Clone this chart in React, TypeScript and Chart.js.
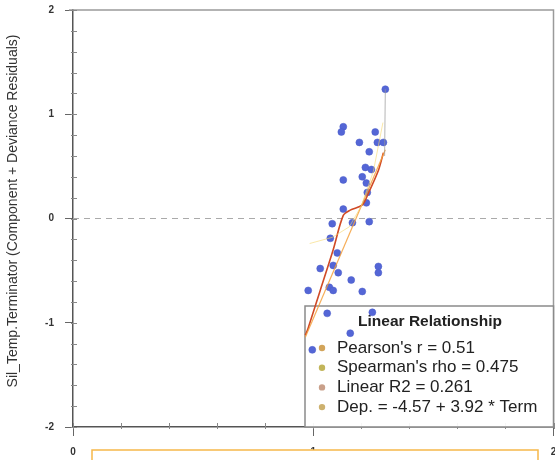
import React, { useEffect, useRef } from "react";
import { Chart, registerables } from "chart.js";

Chart.register(...registerables);

const xTicks = [0, 1, 2];
const yTicks = [-2, -1, 0, 1, 2];

const pointX = [1.300, 1.125, 1.117, 1.192, 1.258, 1.267, 1.292, 1.233, 1.217, 1.242, 1.204, 1.125, 1.221, 1.225, 1.221, 1.125, 1.163, 1.233, 1.079, 1.071, 1.100, 1.029, 1.083, 1.104, 1.271, 1.271, 1.158, 1.067, 1.083, 0.979, 1.204, 1.058, 1.154, 0.996, 1.246];
const pointY = [1.24, 0.88, 0.83, 0.73, 0.83, 0.73, 0.73, 0.64, 0.49, 0.47, 0.40, 0.37, 0.34, 0.25, 0.15, 0.09, -0.04, -0.03, -0.05, -0.19, -0.33, -0.48, -0.45, -0.52, -0.46, -0.52, -0.59, -0.66, -0.69, -0.69, -0.70, -0.91, -1.10, -1.26, -0.90];

const smoothX = [0.967, 0.979, 1.029, 1.083, 1.125, 1.154, 1.204, 1.229, 1.271, 1.292];
const smoothY = [-1.12, -1.05, -0.69, -0.30, 0.03, 0.08, 0.13, 0.24, 0.46, 0.63];

const fitX = [0.967, 1.300];
const fitY = [-1.14, 0.66];

const bandX = [0.985, 1.08, 1.15, 1.2, 1.25, 1.29];
const bandY = [-0.24, -0.18, -0.08, 0.12, 0.45, 0.92];

const stemX = [1.297, 1.300];
const stemY = [0.60, 1.24];

const yTitle = "Sil_Temp.Terminator (Component + Deviance Residuals)";
const legendTitle = "Linear Relationship";
const legendItems = ["Pearson's r = 0.51", "Spearman's rho = 0.475", "Linear R2 = 0.261", "Dep. = -4.57 + 3.92 * Term"];
const legendColors = ["#d2a45a", "#c2b55a", "#c9a08a", "#cdb16e"];

const FONT = "'Liberation Sans', Arial, sans-serif";

function toPts(xs: number[], ys: number[]) {
  return xs.map((x, i) => ({ x, y: ys[i] }));
}

const decorPlugin = {
  id: "decor",
  beforeDatasetsDraw(chart: any) {
    const { ctx, chartArea: a, scales } = chart;
    const xs = scales.x;
    const ys = scales.y;
    ctx.save();
    // top & right frame
    ctx.strokeStyle = "#9a9a9a";
    ctx.lineWidth = 1.5;
    ctx.beginPath();
    ctx.moveTo(a.left - 4, a.top);
    ctx.lineTo(a.right, a.top);
    ctx.lineTo(a.right, a.bottom);
    ctx.stroke();
    // zero dashed line
    ctx.strokeStyle = "#aaaaaa";
    ctx.lineWidth = 1.2;
    ctx.setLineDash([6, 5]);
    const y0 = ys.getPixelForValue(0);
    ctx.beginPath();
    ctx.moveTo(a.left, y0);
    ctx.lineTo(a.right, y0);
    ctx.stroke();
    ctx.setLineDash([]);
    // minor ticks
    ctx.strokeStyle = "#888";
    ctx.lineWidth = 1;
    for (let v = -2; v <= 2.001; v += 0.2) {
      const py = Math.round(ys.getPixelForValue(v)) + 0.5;
      ctx.beginPath();
      ctx.moveTo(a.left - 2, py);
      ctx.lineTo(a.left + 4, py);
      ctx.stroke();
    }
    for (let v = 0; v <= 2.001; v += 0.2) {
      const px = Math.round(xs.getPixelForValue(v)) + 0.5;
      ctx.beginPath();
      ctx.moveTo(px, a.bottom + 2);
      ctx.lineTo(px, a.bottom - 4);
      ctx.stroke();
    }
    // legend box
    const bx = 305, by = 306, bw = a.right - 305, bh = a.bottom - 306;
    ctx.fillStyle = "rgba(255,255,255,0.92)";
    ctx.fillRect(bx, by, bw, bh);
    ctx.strokeStyle = "#8a8a8a";
    ctx.lineWidth = 1.5;
    ctx.strokeRect(bx, by, bw, bh);
    ctx.fillStyle = "#222";
    ctx.textBaseline = "middle";
    ctx.textAlign = "center";
    ctx.font = "bold 15.5px " + FONT;
    ctx.fillText(legendTitle, 430, 322);
    ctx.textAlign = "left";
    ctx.font = "17px " + FONT;
    legendItems.forEach((t, i) => {
      const ly = 348 + i * 19.7;
      ctx.fillStyle = legendColors[i];
      ctx.beginPath();
      ctx.arc(322, ly, 3.2, 0, Math.PI * 2);
      ctx.fill();
      ctx.fillStyle = "#222";
      ctx.fillText(t, 337, ly);
    });
    ctx.restore();
  },
  afterDraw(chart: any) {
    const { ctx } = chart;
    ctx.save();
    // y title
    ctx.fillStyle = "#333";
    ctx.font = "14px " + FONT;
    ctx.textAlign = "center";
    ctx.textBaseline = "middle";
    ctx.translate(13, 211);
    ctx.rotate(-Math.PI / 2);
    ctx.fillText(yTitle, 0, 0);
    ctx.restore();
    ctx.save();
    // x title box (clipped)
    ctx.fillStyle = "#fff";
    ctx.fillRect(92, 450, 446, 20);
    ctx.strokeStyle = "#f6b84a";
    ctx.lineWidth = 1.5;
    ctx.beginPath();
    ctx.moveTo(92, 470);
    ctx.lineTo(92, 450);
    ctx.lineTo(538, 450);
    ctx.lineTo(538, 470);
    ctx.stroke();
    ctx.restore();
  },
};

const CW = 558;

export default function App() {
  const ref = useRef<HTMLCanvasElement | null>(null);
  useEffect(() => {
    if (!ref.current) return;
    const chart = new Chart(ref.current, {
      type: "scatter",
      data: {
        datasets: [
          {
            data: toPts(stemX, stemY),
            showLine: true,
            borderColor: "rgba(150,150,150,0.7)",
            borderWidth: 1,
            pointRadius: 0,
          },
          {
            data: toPts(bandX, bandY),
            showLine: true,
            borderColor: "rgba(245,215,110,0.6)",
            borderWidth: 1,
            pointRadius: 0,
          },
          {
            data: toPts(fitX, fitY),
            showLine: true,
            borderColor: "rgba(245,160,60,0.85)",
            borderWidth: 1.2,
            pointRadius: 0,
          },
          {
            data: toPts(smoothX, smoothY),
            showLine: true,
            borderColor: "#d04a26",
            borderWidth: 1.6,
            pointRadius: 0,
            tension: 0.3,
          },
          {
            data: toPts(pointX, pointY),
            backgroundColor: "#5466d6",
            borderColor: "#4a5cc8",
            borderWidth: 0.5,
            pointRadius: 3.5,
          },
        ],
      },
      options: {
        animation: false,
        responsive: false,
        layout: { padding: { top: 10, right: 0, left: 0, bottom: 0 } },
        plugins: { legend: { display: false }, tooltip: { enabled: false } },
        scales: {
          x: {
            type: "linear",
            min: 0,
            max: 2,
            afterFit: (s: any) => { s.height = 33; s.paddingLeft = 0; s.paddingRight = 0; },
            afterBuildTicks: (s: any) => { s.ticks = xTicks.map((v) => ({ value: v })); },
            ticks: { color: "#333", font: { family: FONT, size: 10, weight: "bold" }, padding: 10 },
            grid: { drawOnChartArea: false, drawTicks: true, tickLength: 9, color: "#666" },
            border: { display: true, color: "#555", width: 1.5 },
          },
          y: {
            type: "linear",
            min: -2,
            max: 2,
            afterFit: (s: any) => { s.width = 73; s.paddingTop = 0; s.paddingBottom = 0; },
            afterBuildTicks: (s: any) => { s.ticks = yTicks.map((v) => ({ value: v })); },
            ticks: { color: "#333", font: { family: FONT, size: 10, weight: "bold" }, padding: 11 },
            grid: { drawOnChartArea: false, drawTicks: true, tickLength: 8, color: "#666" },
            border: { display: true, color: "#555", width: 1.5 },
          },
        },
      },
      plugins: [decorPlugin],
    } as any);
    return () => chart.destroy();
  }, []);
  return (
    <div style={{ position: "absolute", left: 0, top: 0, width: 555, height: 460, background: "#fff", overflow: "hidden" }}>
      <canvas ref={ref} width={CW} height={460} style={{ width: CW, height: 460, display: "block" }} />
    </div>
  );
}
